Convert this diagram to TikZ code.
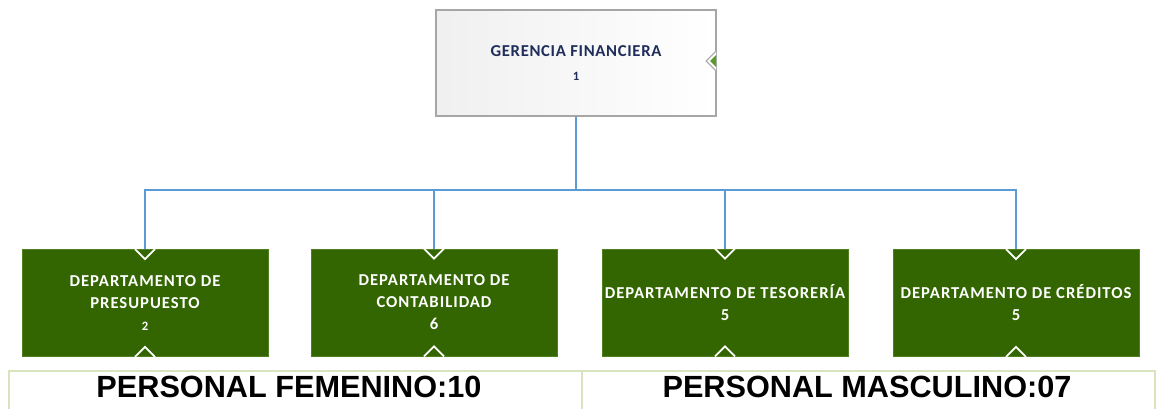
\documentclass[tikz,border=0pt]{standalone}
\usepackage{fontspec}
\setmainfont{Carlito}
\newfontfamily\arialfont{Liberation Sans}
\definecolor{conncol}{HTML}{5B9BD5}
\definecolor{deptgreen}{HTML}{336600}
\definecolor{deptborder}{HTML}{4F7F1F}
\definecolor{navy}{HTML}{1F2D5A}
\definecolor{tableline}{HTML}{D7E4BD}
\definecolor{markgreen}{HTML}{5A9A2A}
\tikzset{
  topbox/.style={draw=gray!70, line width=0.8pt, left color=gray!12, right color=white,
    minimum width=210pt, minimum height=79.5pt, inner sep=0pt, align=center,
    font=\fontsize{12.5}{17}\selectfont\bfseries\addfontfeatures{LetterSpace=4}, text=navy},
  deptbox/.style={draw=deptborder, fill=deptgreen, line width=0.5pt,
    minimum width=184.5pt, minimum height=80.25pt, inner sep=0pt, align=center,
    font=\fontsize{12.5}{16.5}\selectfont\bfseries\addfontfeatures{LetterSpace=6}, text=white},
  conn/.style={draw=conncol, line width=2pt},
  notch/.style={draw=white, line width=1.3pt},
  tline/.style={draw=tableline, line width=1.6pt},
  totaltext/.style={font=\arialfont\bfseries\fontsize{23}{26}\selectfont, text=black, inner sep=0pt}
}
\begin{document}
\begin{tikzpicture}[x=0.75pt, y=-0.75pt]
\useasboundingbox (0,0) rectangle (1159,408);
% top box
\node[topbox] (top) at (576,63) {GERENCIA FINANCIERA\\[1pt]\fontsize{9.5}{12}\selectfont 1};
% marker on the right edge of top box
\draw[draw=gray!70, fill=white, line width=0.8pt] (716,51) -- (706,61) -- (716,71);
\fill[markgreen] (716,55) -- (710,61) -- (716,67) -- cycle;
% departments
\node[deptbox] (b1) at (145,303) {DEPARTAMENTO DE\\PRESUPUESTO\\\fontsize{9.5}{16.5}\selectfont 2};
\node[deptbox] (b2) at (434,302.5) {DEPARTAMENTO DE\\CONTABILIDAD\\6};
\node[deptbox] (b3) at (725,302.5) {DEPARTAMENTO DE TESORERÍA\\5};
\node[deptbox] (b4) at (1016,303) {DEPARTAMENTO DE CRÉDITOS\\5};
% connectors
\coordinate (bus) at (576,190);
\draw[conn] (top.south) -- (bus);
\foreach \b in {b1,b2,b3,b4}{
  \draw[conn] (bus) -| (\b.north);
}
% notches
\foreach \b in {b1,b2,b3,b4}{
  \draw[notch] ([xshift=-7.5pt]\b.north) -- ([yshift=-7.5pt]\b.north) -- ([xshift=7.5pt]\b.north);
  \draw[notch] ([xshift=-7.5pt]\b.south) -- ([yshift=7.5pt]\b.south) -- ([xshift=7.5pt]\b.south);
}
% bottom table
\coordinate (tl) at (9,371);
\coordinate (tm) at (582,371);
\coordinate (tr) at (1155,371);
\draw[tline] (8,371) -- (1156,371);
\draw[tline] (tl) -- (9,410);
\draw[tline] (tm) -- (582,410);
\draw[tline] (tr) -- (1155,410);
\node[totaltext] (fem) at (289,387) {PERSONAL FEMENINO:10};
\node[totaltext] (mas) at (867,387) {PERSONAL MASCULINO:07};
\end{tikzpicture}
\end{document}
